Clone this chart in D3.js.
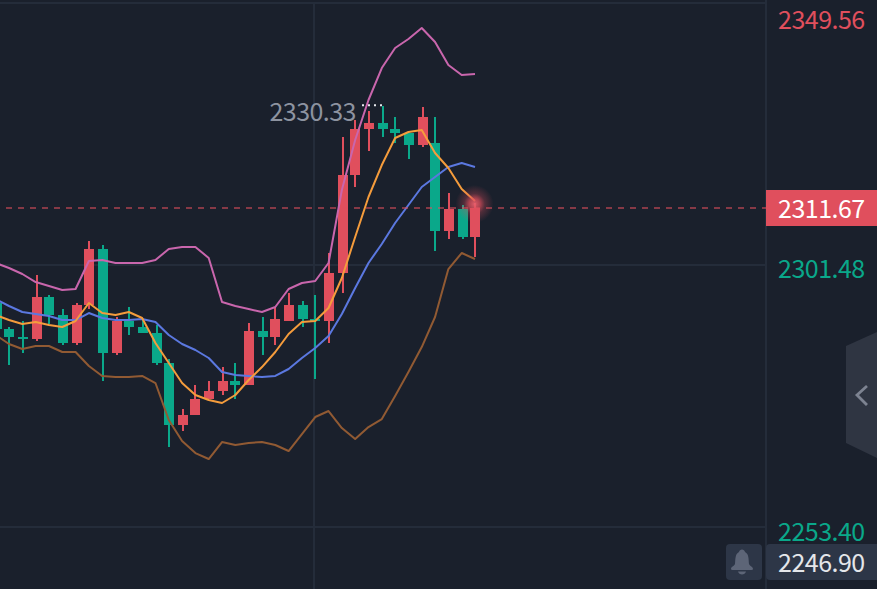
<!DOCTYPE html>
<html><head><meta charset="utf-8">
<script src="https://cdn.jsdelivr.net/npm/d3@7"></script>
<style>html,body{margin:0;padding:0;background:#1a202c;overflow:hidden}svg{display:block}text{font-family:"Noto Sans CJK SC","Noto Sans",sans-serif}</style>
</head><body><svg id="c" width="877" height="589"></svg>
<script>
const opens=[2294.24,2289.47,2288.00,2287.63,2295.34,2292.04,2286.90,2293.87,2304.15,2285.07,2290.94,2289.84,2288.74,2283.23,2271.85,2273.69,2276.62,2278.09,2279.93,2279.19,2289.10,2288.00,2290.94,2293.87,2291.30,2290.94,2299.75,2317.73,2326.17,2327.27,2326.17,2325.43,2323.23,2323.60,2307.45,2311.49,2306.35];
const highs=[2295.16,2289.84,2290.94,2299.38,2295.71,2293.14,2294.24,2305.62,2304.88,2291.67,2293.51,2291.12,2290.20,2283.96,2274.79,2279.19,2279.93,2282.49,2283.23,2290.57,2291.67,2293.51,2296.07,2294.61,2295.71,2303.41,2324.70,2327.88,2329.47,2330.33,2328.37,2325.43,2330.21,2328.37,2314.42,2312.22,2312.59];
const lows=[2289.10,2282.86,2285.07,2287.26,2290.39,2286.53,2286.53,2293.14,2279.93,2284.70,2288.37,2288.74,2282.86,2267.82,2270.75,2273.69,2276.62,2277.36,2276.62,2279.19,2284.70,2286.53,2290.94,2289.84,2280.30,2286.90,2296.07,2315.53,2322.13,2324.70,2323.60,2320.66,2322.86,2303.78,2305.98,2305.98,2302.68];
const closes=[2289.47,2288.00,2287.63,2295.34,2292.04,2286.90,2293.87,2304.15,2285.07,2290.94,2289.84,2288.74,2283.23,2271.85,2273.69,2276.62,2278.09,2279.93,2279.19,2289.10,2288.00,2291.30,2293.87,2291.30,2290.94,2299.75,2317.73,2326.17,2327.27,2326.17,2325.43,2323.23,2328.37,2307.45,2311.49,2306.35,2311.67];
const bollUpper=[2301.58,2300.66,2299.56,2298.09,2297.36,2296.62,2296.81,2301.95,2302.13,2301.58,2301.58,2301.58,2302.13,2304.15,2304.52,2304.52,2302.50,2294.42,2293.69,2293.14,2292.59,2293.51,2296.81,2297.91,2298.28,2301.58,2314.97,2324.15,2331.49,2337.36,2341.03,2342.69,2344.70,2342.13,2337.91,2336.08,2336.26];
const bollMid=[2294.97,2293.69,2292.59,2292.22,2291.85,2291.12,2291.12,2292.40,2291.49,2291.12,2291.12,2291.30,2290.75,2288.37,2286.72,2285.62,2284.15,2281.58,2281.03,2280.85,2280.66,2280.85,2282.13,2284.15,2285.98,2288.18,2292.22,2296.99,2301.58,2305.07,2308.92,2312.22,2315.53,2317.36,2319.19,2319.93,2319.19];
const fastMA=[2292.04,2291.12,2290.39,2290.75,2290.20,2289.84,2290.94,2294.24,2292.40,2292.04,2292.59,2291.49,2286.90,2283.23,2279.56,2277.36,2276.44,2275.89,2277.36,2280.11,2282.49,2285.25,2288.55,2290.75,2290.94,2293.32,2298.83,2306.35,2313.69,2319.56,2324.52,2325.62,2325.99,2321.77,2319.01,2315.15,2312.95];
const bollLower=[2288.37,2286.72,2285.80,2286.35,2286.35,2285.25,2285.25,2282.68,2280.85,2280.66,2280.66,2280.85,2279.56,2272.77,2268.91,2266.71,2265.61,2268.73,2268.18,2268.55,2268.73,2268.18,2267.08,2270.20,2273.32,2274.42,2271.30,2269.28,2271.48,2272.95,2277.17,2281.58,2286.16,2291.67,2300.47,2303.41,2302.31];
const axisTop="2349.56", axisMid="2301.48", axisLow="2253.40", axisBottom="2246.90", lastPrice="2311.67", highLabel="2330.33";
const axisValues=[axisTop,axisMid,axisLow];

const W=877,H=589,RED="#e04f5d",GREEN="#0aa88a",BG="#1a202c",GRID="#242c3a";
const svg=d3.select("#c");
svg.append("rect").attr("width",W).attr("height",H).attr("fill",BG);
const x=d3.scaleLinear().domain([1,36]).range([9,475]);
const y=d3.scaleLinear().domain([2349.84,2246.90]).range([0,561]);
const snapLeft=i=>2*Math.round((x(i)-5+.56)/2);
const defs=svg.append("defs");
const rg=defs.append("radialGradient").attr("id","glow");
rg.append("stop").attr("offset","0%").attr("stop-color","#e8606c").attr("stop-opacity",.95);
rg.append("stop").attr("offset","28%").attr("stop-color","#e04f5d").attr("stop-opacity",.75);
rg.append("stop").attr("offset","55%").attr("stop-color","#e04f5d").attr("stop-opacity",.28);
rg.append("stop").attr("offset","100%").attr("stop-color","#e04f5d").attr("stop-opacity",0);
defs.append("clipPath").attr("id","plot").append("rect").attr("width",766).attr("height",H);

const grid=svg.append("g").attr("stroke",GRID).attr("stroke-width",2);
[+axisTop,+axisMid,+axisLow].forEach(v=>grid.append("line").attr("x1",0).attr("x2",766).attr("y1",Math.round(y(v))+1).attr("y2",Math.round(y(v))+1));
grid.append("line").attr("x1",314).attr("x2",314).attr("y1",3).attr("y2",H);
grid.append("line").attr("x1",766).attr("x2",766).attr("y1",0).attr("y2",H);

const plot=svg.append("g").attr("clip-path","url(#plot)");
const idx=d3.range(closes.length);
const cg=plot.append("g").attr("shape-rendering","crispEdges");
const color=i=>closes[i]>=opens[i]?RED:GREEN;
cg.selectAll("line").data(idx).join("line")
 .attr("x1",i=>snapLeft(i)+5).attr("x2",i=>snapLeft(i)+5)
 .attr("y1",i=>y(highs[i])).attr("y2",i=>y(lows[i])).attr("stroke",color).attr("stroke-width",2);
cg.selectAll("rect").data(idx).join("rect")
 .attr("x",i=>snapLeft(i)).attr("width",10)
 .attr("y",i=>y(Math.max(opens[i],closes[i]))).attr("height",i=>Math.max(2,Math.abs(y(opens[i])-y(closes[i])))).attr("fill",color);

svg.append("line").attr("x1",6).attr("x2",766).attr("y1",y(+lastPrice)).attr("y2",y(+lastPrice))
 .attr("stroke",RED).attr("stroke-opacity",.55).attr("stroke-width",2).attr("stroke-dasharray","6 6");

const lineGen=d3.line().x((d,i)=>x(i)).y(d=>y(d));
[[bollUpper,"#c966ad"],[bollLower,"#915a33"],[bollMid,"#5b78e0"],[fastMA,"#f59c3c"]].forEach(([s,c])=>
 plot.append("path").attr("d",lineGen(s)).attr("fill","none").attr("stroke",c).attr("stroke-width",2).attr("stroke-linejoin","round"));

svg.append("circle").attr("cx",x(36)-.5).attr("cy",y(+lastPrice)-4).attr("r",19).attr("fill","url(#glow)");

svg.append("text").attr("x",269.5).attr("y",121).attr("font-size",25).attr("letter-spacing",-.55).attr("fill","#8d93a0").text(highLabel);
svg.append("line").attr("x1",362).attr("x2",snapLeft(29)+5).attr("y1",y(+highLabel)-1).attr("y2",y(+highLabel)-1)
 .attr("stroke","#e8eaee").attr("stroke-width",2).attr("stroke-dasharray","2 4");

const label=(t,yy,c)=>svg.append("text").attr("x",778).attr("y",yy).attr("font-size",25).attr("letter-spacing",-.5).attr("fill",c).text(t);
svg.append("rect").attr("x",766).attr("y",190).attr("width",111).attr("height",36).attr("fill",RED);
label(lastPrice,218,"#ffffff");
label(axisValues[0],29,RED);
label(axisValues[1],278,GREEN);
label(axisValues[2],541,GREEN);
svg.append("rect").attr("x",766).attr("y",544).attr("width",115).attr("height",36).attr("rx",4).attr("fill","#2d3647");
label(axisBottom,572,"#e4e6ea");
svg.append("rect").attr("x",726).attr("y",544).attr("width",36).attr("height",36).attr("rx",4).attr("fill","#2d3647");
svg.append("path").attr("d","M731,569 C731,566.500 734,566.500 735,564 C735.500,559 735,554 739,552 C739.500,548.500 744.500,548.500 745,552 C749,554 748.500,559 749,564 C750,566.500 753,566.500 753,569 Q753,570 751.500,570 H732.500 Q731,570 731,569 Z M738,571.500 H746 C745,575.500 739,575.500 738,571.500 Z").attr("fill","#5d6577");
svg.append("path").attr("d","M846,346 L877,332 V458 L846,443 Z").attr("fill","#2f3542");
svg.append("path").attr("d","M867,386 L857,395 L867,405").attr("fill","none").attr("stroke","#7d8391").attr("stroke-width",2.8);
</script></body></html>
